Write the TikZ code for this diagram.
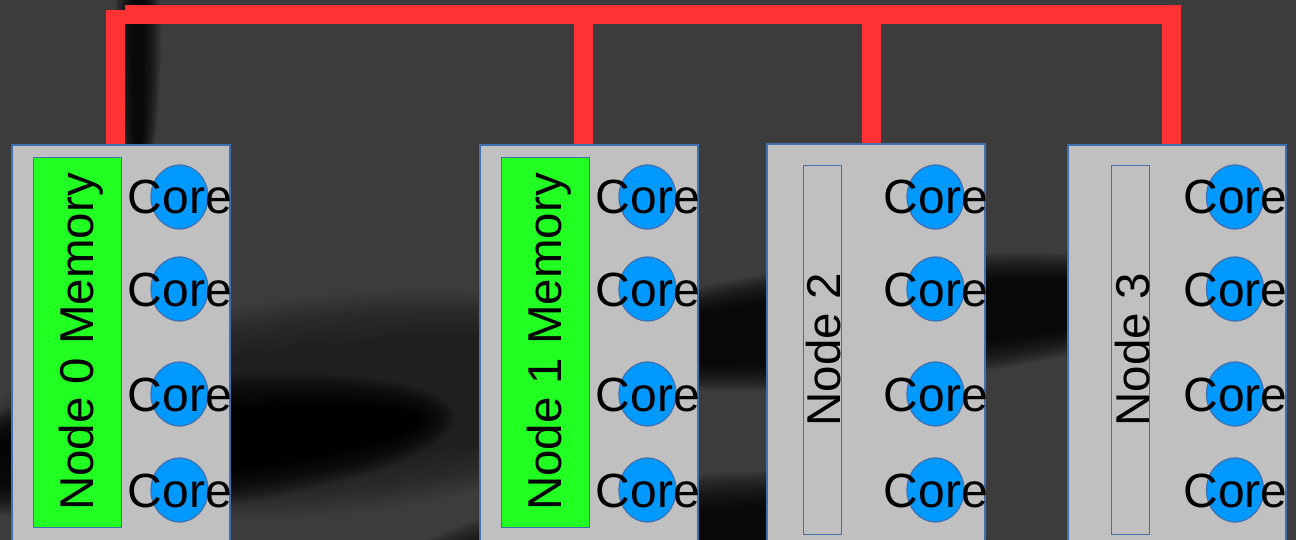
\documentclass[tikz,border=0pt]{standalone}
\usepackage{fontspec}
\setmainfont{Liberation Sans}
\usetikzlibrary{shapes.geometric}
\definecolor{bgc}{HTML}{3C3C3C}
\definecolor{busred}{HTML}{FF3333}
\definecolor{boxgray}{HTML}{C0C0C0}
\definecolor{edgeblue}{HTML}{4070B0}
\definecolor{memgreen}{HTML}{22FF22}
\definecolor{coreblue}{HTML}{0099FF}
\newcommand\shblob[7]{%
  \foreach \k in {0,...,19}{%
    \fill[black, fill opacity=#7] (#1,#2) ellipse [x radius={#3+#6*\k/19}, y radius={#4+#6*\k/19}, rotate=#5];
  }}
\tikzset{
  nodebox/.style={draw=edgeblue, line width=1.2pt, fill=boxgray, minimum width=218pt, minimum height=420pt, anchor=north west, inner sep=0pt, outer sep=0pt},
  membox/.style={draw=edgeblue, line width=1.2pt, fill=memgreen, minimum width=88pt, minimum height=370pt, anchor=north west, inner sep=0pt},
  emptybox/.style={draw=edgeblue, line width=1.2pt, minimum width=38pt, minimum height=369pt, anchor=north west, inner sep=0pt},
  core/.style={ellipse, draw=edgeblue, line width=1.2pt, fill=coreblue, minimum width=57pt, minimum height=64pt, inner sep=0pt},
  corelabel/.style={font=\fontsize{48}{52}\selectfont, anchor=base, inner sep=0pt},
  memlabel/.style={font=\fontsize{47.5}{52}\selectfont, anchor=base, rotate=90, inner sep=0pt},
  bus/.style={draw=busred, line width=19pt},
}
\begin{document}
\begin{tikzpicture}[x=1pt, y=-1pt]
\useasboundingbox (0,0) rectangle (1296,540);
\clip (0,0) rectangle (1296,540);
\fill[bgc] (0,0) rectangle (1296,540);
% shadows
\shblob{330}{405}{300}{60}{6}{50}{0.022}
\shblob{175}{445}{245}{30}{6}{36}{0.075}
\shblob{880}{322}{290}{30}{5.5}{32}{0.075}
\shblob{660}{585}{290}{65}{8}{40}{0.075}
\shblob{138}{40}{5}{130}{0}{18}{0.07}
% boxes
\node[nodebox] (b0) at (12,145) {};
\node[nodebox] (b1) at (480,145) {};
\node[nodebox] (b2) at (767,144) {};
\node[nodebox] (b3) at (1068,145) {};
% bus
\coordinate (t0) at (115.5,10);
\coordinate (busL) at (125,15);
\coordinate (busR) at (1171.5,15);
\coordinate (t1) at (583.5,15);
\coordinate (t2) at (871.5,15);
\draw[bus] (t0) -- ([xshift=103.5pt]b0.north west);
\draw[bus] (busL) -- (busR) -- ([xshift=103.5pt]b3.north west);
\draw[bus] (t1) -- ([xshift=103.5pt]b1.north west);
\draw[bus] (t2) -- ([xshift=104.5pt]b2.north west);
% redraw boxes on top of bus ends
\node[nodebox] at (12,145) {};
\node[nodebox] at (480,145) {};
\node[nodebox] at (767,144) {};
\node[nodebox] at (1068,145) {};
% memory areas
\node[membox] (m0) at (33,157) {};
\node[membox] (m1) at (501,157) {};
\node[emptybox] (m2) at (803,165) {};
\node[emptybox] (m3) at (1111,165) {};
\node[memlabel] (l0) at (93,342) {Node 0 Memory};
\node[memlabel] (l1) at (561,342) {Node 1 Memory};
\node[memlabel] (l2) at (840,350) {Node 2};
\node[memlabel] (l3) at (1149,350) {Node 3};
% cores
\foreach \cx [count=\i] in {179.5,647.5,935.5,1235}{
  \foreach \cy [count=\j] in {197,289,394,490}{
    \node[core] (k\i\j) at (\cx,\cy) {};
    \node[corelabel] (c\i\j) at (\cx+0.5,\cy+17) {Core};
  }
}
\end{tikzpicture}
\end{document}
